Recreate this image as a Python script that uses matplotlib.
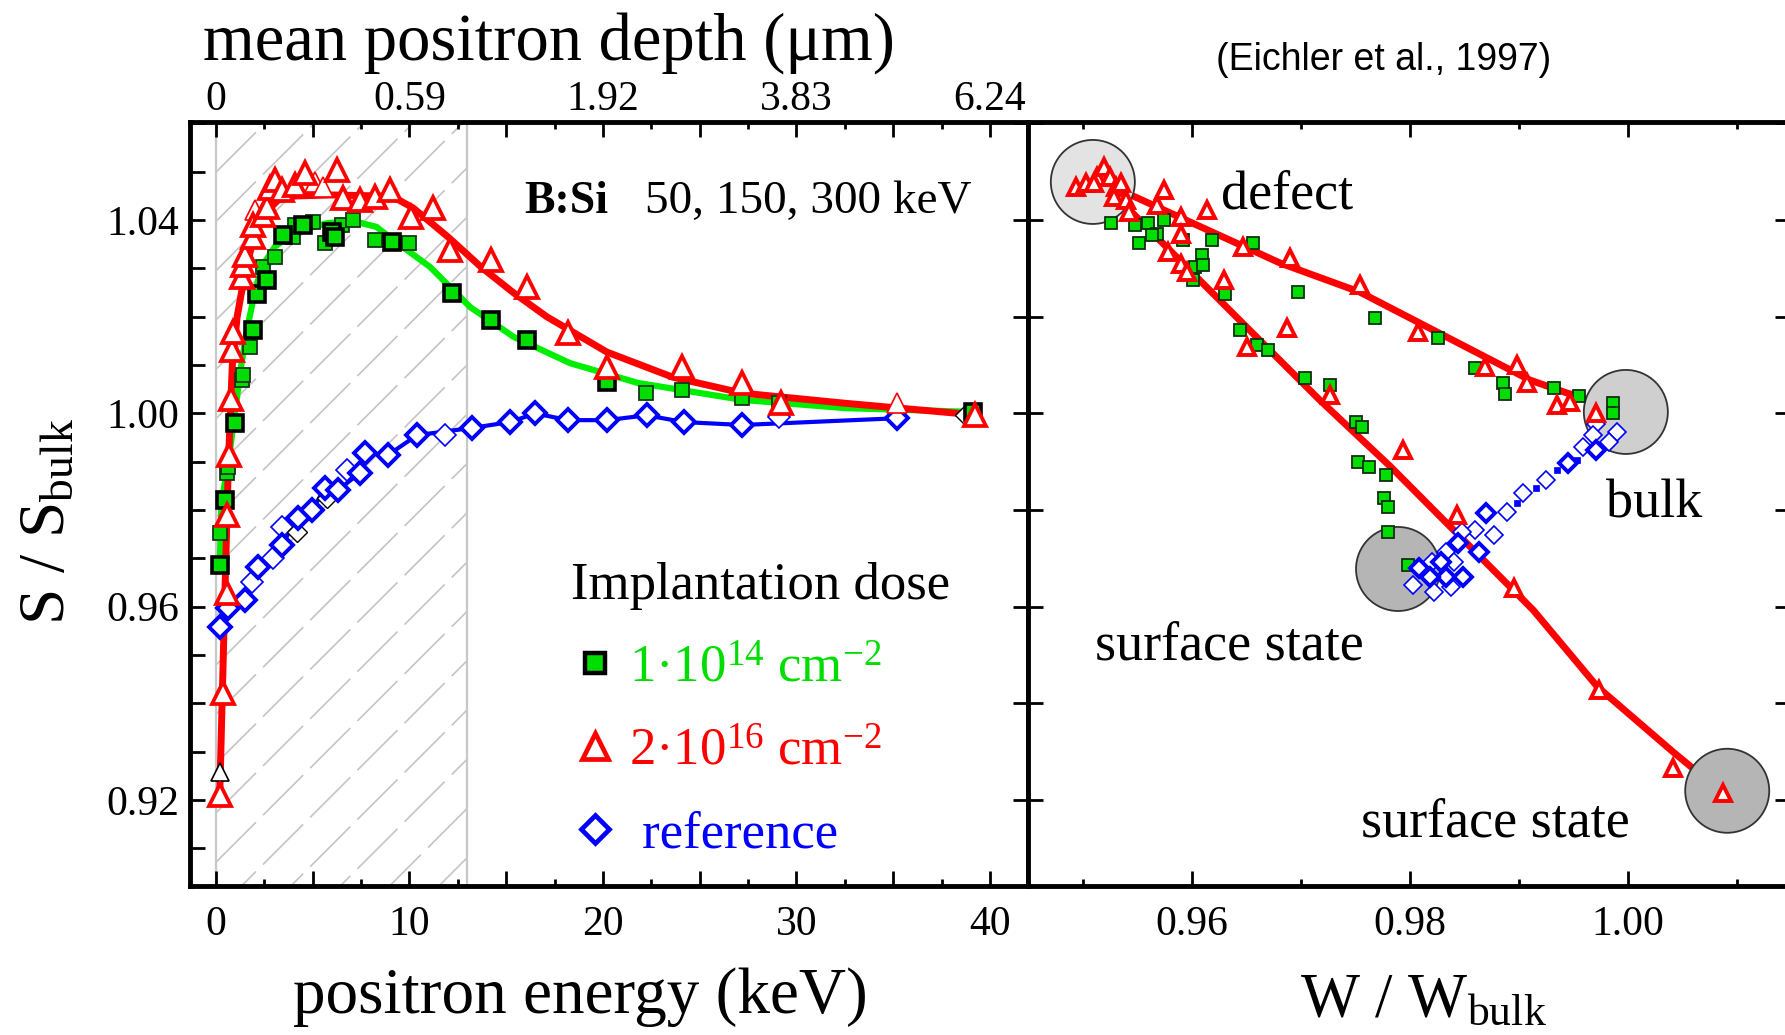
import matplotlib
matplotlib.use("Agg")
import matplotlib.pyplot as plt
from matplotlib.lines import Line2D
from matplotlib.patches import Rectangle
from matplotlib.ticker import MultipleLocator, FuncFormatter

plt.rcParams['font.family'] = ['Liberation Serif', 'DejaVu Serif']
plt.rcParams['mathtext.fontset'] = 'custom'
plt.rcParams['mathtext.rm'] = 'Liberation Serif'
plt.rcParams['mathtext.it'] = 'Liberation Serif:italic'
plt.rcParams['mathtext.bf'] = 'Liberation Serif:bold'

GREEN = '#00dd00'
RED = '#ff0000'
BLUE = '#0000ff'

# ---- S(E) depth profiles, 1e14 cm^-2 (green squares) ----
G_THICK_E = [0.2, 0.47, 0.98, 1.93, 2.1, 2.62, 3.48, 4.52, 5.98, 6.16, 9.09, 12.2, 14.2, 16.1, 20.2, 39.1]
G_THICK_S = [0.9686, 0.9820, 0.9980, 1.0172, 1.0248, 1.0276, 1.0369, 1.0390, 1.0376, 1.0365, 1.0355,
             1.0249, 1.0193, 1.0152, 1.0065, 1.0003]
G_THIN_E = [0.2, 0.55, 0.64, 1.33, 1.41, 1.76, 2.45, 3.05, 4.0, 4.09, 5.03, 5.64, 6.5, 7.1, 8.23, 10.0,
            22.2, 24.1, 27.2, 29.1]
G_THIN_S = [0.9752, 0.9876, 0.9890, 1.0069, 1.0080, 1.0138, 1.0303, 1.0324, 1.0365, 1.0390, 1.0397,
            1.0352, 1.0390, 1.0400, 1.0359, 1.0352, 1.0042, 1.0048, 1.0032, 1.0021]
G_FIT_E = [0.2, 0.29, 0.64, 0.98, 1.33, 1.6, 1.93, 2.36, 3.05, 4.09, 5.8, 7.2, 8.3, 9.16, 11.07, 13.14,
           15.4, 18.3, 21.8, 27.2, 32.5, 39.1]
G_FIT_S = [0.9682, 0.9815, 0.9897, 1.0000, 1.0104, 1.0172, 1.0235, 1.0303, 1.0345, 1.0376, 1.0394, 1.0397,
           1.0386, 1.0359, 1.0303, 1.0220, 1.0158, 1.0104, 1.0063, 1.0028, 1.0011, 1.0003]

# ---- 2e16 cm^-2 (red triangles) ----
R_THICK_E = [0.2, 0.37, 0.57, 0.57, 0.66, 0.76, 0.81, 0.9, 1.33, 1.41, 1.5, 1.93, 1.93, 2.45, 2.62, 2.79,
             3.05, 3.4, 4.09, 4.6, 6.24, 6.59, 7.45, 8.23, 9.0, 10.1, 11.2, 12.1, 14.2, 16.1, 18.2, 20.2,
             24.1, 27.2, 29.2, 39.2]
R_THICK_S = [0.9211, 0.9421, 0.9628, 0.9790, 0.9914, 1.0030, 1.0131, 1.0169, 1.0283, 1.0307, 1.0328,
             1.0365, 1.0390, 1.0410, 1.0428, 1.0466, 1.0483, 1.0462, 1.0472, 1.0497, 1.0503, 1.0445,
             1.0441, 1.0448, 1.0462, 1.0406, 1.0425, 1.0338, 1.0317, 1.0261, 1.0166, 1.0096, 1.0096,
             1.0063, 1.0021, 0.9997]
R_THIN_E = [2.02, 5.12, 5.55, 35.2]
R_THIN_S = [1.0421, 1.0479, 1.0469, 1.0021]
R_FIT_E = [0.2, 0.45, 0.65, 0.85, 1.1, 1.5, 1.93, 2.53, 3.2, 4.1, 6.0, 8.5, 9.3, 10.2, 12.0, 13.7, 15.4,
           17.1, 20.2, 23.6, 27.2, 32.5, 39.2]
R_FIT_S = [0.921, 0.960, 0.990, 1.010, 1.020, 1.029, 1.0359, 1.0414, 1.0441, 1.0450, 1.0452, 1.0450,
           1.0445, 1.0425, 1.0365, 1.0303, 1.0249, 1.0200, 1.0127, 1.0075, 1.0042, 1.0021, 0.9997]
BLACK_TRI_E = [0.2]
BLACK_TRI_S = [0.9258]

# ---- reference sample (blue diamonds) ----
B_THICK_E = [0.2, 0.62, 1.5, 2.17, 3.4, 4.24, 4.97, 5.64, 6.3, 7.45, 7.7, 8.9, 10.4, 13.24, 15.2, 16.5,
             18.2, 20.2, 22.25, 24.2, 27.2, 35.2]
B_THICK_S = [0.9558, 0.9597, 0.9614, 0.9682, 0.9728, 0.9783, 0.9800, 0.9845, 0.9841, 0.9877, 0.9918,
             0.9914, 0.9955, 0.9970, 0.9982, 1.0000, 0.9986, 0.9986, 0.9996, 0.9982, 0.9976, 0.9990]
B_THIN_E = [1.86, 2.95, 3.4, 6.78, 11.85, 29.1]
B_THIN_S = [0.9651, 0.9701, 0.9765, 0.9883, 0.9955, 0.9992]
BLACK_DIA_E = [4.2, 5.75, 38.7]
BLACK_DIA_S = [0.9754, 0.9825, 0.9996]

# top axis: mean positron depth at given energies
DEPTH_E = [0, 10, 20, 30, 40]
DEPTH_LABELS = ['0', '0.59', '1.92', '3.83', '6.24']
HATCH_E_MAX = 13.0

# ---- S-W plot ----
SW_G_W = [0.9526, 0.9548, 0.9551, 0.9560, 0.9568, 0.9563, 0.9574, 0.9592, 0.9618, 0.9609, 0.9603, 0.9610,
          0.9601, 0.9630, 0.9656, 0.9697, 0.9644, 0.9660, 0.9670, 0.9768, 0.9826, 0.9704, 0.9727, 0.9750,
          0.9756, 0.9860, 0.9885, 0.9887, 0.9932, 0.9955, 0.9752, 0.9762, 0.9778, 0.9776, 0.9780, 0.9780,
          0.9798, 0.9986, 0.9986]
SW_G_S = [1.0393, 1.0390, 1.0352, 1.0393, 1.0372, 1.0369, 1.0400, 1.0359, 1.0359, 1.0328, 1.0303, 1.0307,
          1.0276, 1.0248, 1.0352, 1.0251, 1.0172, 1.0141, 1.0131, 1.0197, 1.0156, 1.0073, 1.0059, 0.9982,
          0.9972, 1.0094, 1.0062, 1.0041, 1.0052, 1.0035, 0.9899, 0.9889, 0.9872, 0.9825, 0.9806, 0.9754,
          0.9686, 1.0021, 1.0000]
SW_R_W = [0.9494, 0.9503, 0.9513, 0.9519, 0.9525, 0.9510, 0.9530, 0.9535, 0.9528, 0.9539, 0.9542, 0.9574,
          0.9568, 0.9590, 0.9614, 0.9590, 0.9578, 0.9590, 0.9595, 0.9647, 0.9629, 0.9690, 0.9687, 0.9650,
          0.9754, 0.9727, 0.9794, 0.9807, 0.9869, 0.9898, 0.9907, 0.9935, 0.9947, 0.9971, 0.9843, 0.9895,
          0.9973, 1.0041, 1.0087]
SW_R_S = [1.0469, 1.0476, 1.0490, 1.0510, 1.0490, 1.0476, 1.0469, 1.0476, 1.0448, 1.0441, 1.0417, 1.0462,
          1.0431, 1.0407, 1.0421, 1.0372, 1.0334, 1.0310, 1.0293, 1.0345, 1.0276, 1.0321, 1.0177, 1.0137,
          1.0266, 1.0038, 0.9924, 1.0168, 1.0096, 1.0100, 1.0062, 1.0017, 1.0024, 1.0000, 0.9790, 0.9639,
          0.9427, 0.9266, 0.9214]
SW_B_THICK_W = [0.9971, 0.9945, 0.9870, 0.9863, 0.9844, 0.9828, 0.9808, 0.9833, 0.9849, 0.9818]
SW_B_THICK_S = [0.9924, 0.9897, 0.9793, 0.9714, 0.9731, 0.9693, 0.9679, 0.9662, 0.9662, 0.9662]
SW_B_THIN_W = [0.9971, 0.9990, 0.9983, 0.9968, 0.9959, 0.9925, 0.9904, 0.9889, 0.9877, 0.9860, 0.9848,
               0.9833, 0.9840, 0.9820, 0.9803, 0.9822, 0.9838]
SW_B_THIN_S = [0.9979, 0.9962, 0.9941, 0.9955, 0.9931, 0.9862, 0.9835, 0.9796, 0.9748, 0.9759, 0.9755,
               0.9714, 0.9693, 0.9693, 0.9645, 0.9631, 0.9641]
SW_B_DOT_W = [0.9898, 0.9916, 0.9935, 0.9953]
SW_B_DOT_S = [0.9814, 0.9845, 0.9883, 0.9903]
# fitted trajectory: surface -> defect -> bulk
SW_FIT_W = [1.0087, 1.0041, 0.9972, 0.9913, 0.9782, 0.9717, 0.9641, 0.9540, 0.9511, 0.9540, 0.9681,
            0.9754, 0.9910, 0.9962, 0.9998]
SW_FIT_S = [0.9214, 0.9300, 0.9434, 0.9593, 0.9890, 1.0028, 1.0199, 1.0427, 1.0483, 1.0456, 1.0311,
            1.0251, 1.0069, 1.0028, 1.0003]
# characteristic states (grey discs)
STATE_W = [0.9509, 0.9998, 0.9789, 1.0091]
STATE_S = [1.0479, 1.0003, 0.9678, 0.9219]
STATE_COLORS = ['#e3e3e3', '#cfcfcf', '#b5b5b5', '#b5b5b5']


def style_spines(ax):
    for sp in ax.spines.values():
        sp.set_linewidth(3.5)


def draw_hatch(ax):
    # shaded depth region 0 .. HATCH_E_MAX keV
    rect = Rectangle((0, 0), HATCH_E_MAX, 1, transform=ax.get_xaxis_transform(),
                     facecolor='none', edgecolor='none')
    ax.add_patch(rect)
    k = 0.0040
    s0 = 1.0499 + 0.0102 * 3
    while s0 > 0.90 - k * HATCH_E_MAX:
        ax.plot([0, HATCH_E_MAX], [s0, s0 + k * HATCH_E_MAX], color='#c4c4c4', lw=1.2,
                ls=(0, (34, 6)), clip_path=rect, zorder=0.5)
        s0 -= 0.0102
    ax.axvline(0, color='#c8c8c8', lw=1.6, zorder=0.6)
    ax.axvline(HATCH_E_MAX, color='#c8c8c8', lw=1.6, zorder=0.6)


def plot_profiles(ax):
    draw_hatch(ax)
    ax.plot(G_FIT_E, G_FIT_S, color='#00ee00', lw=4.5, zorder=2, solid_capstyle='round')
    ax.plot(B_THICK_E, B_THICK_S, color=BLUE, lw=3, zorder=2)
    ax.plot(R_FIT_E, R_FIT_S, color=RED, lw=5, zorder=2.2, solid_capstyle='round')

    ax.plot(G_THIN_E, G_THIN_S, 's', ms=10.5, mfc=GREEN, mec='#173517', mew=1.3, zorder=3)
    ax.plot(G_THICK_E, G_THICK_S, 's', ms=11, mfc=GREEN, mec='black', mew=2.6, zorder=3.1)
    ax.plot(B_THIN_E, B_THIN_S, 'D', ms=11, mfc='white', mec=BLUE, mew=1.2, zorder=3)
    ax.plot(BLACK_DIA_E, BLACK_DIA_S, 'D', ms=10, mfc='white', mec='black', mew=1.0, zorder=3)
    ax.plot(B_THICK_E, B_THICK_S, 'D', ms=11, mfc='white', mec=BLUE, mew=2.8, zorder=3.2)
    ax.plot(R_THIN_E, R_THIN_S, '^', ms=14.5, mfc='white', mec=RED, mew=1.2, zorder=4)
    ax.plot(BLACK_TRI_E, BLACK_TRI_S, '^', ms=13, mfc='white', mec='black', mew=1.2, zorder=4)
    ax.plot(R_THICK_E, R_THICK_S, '^', ms=15.5, mfc='white', mec=RED, mew=2.7, zorder=4.1)

    ax.set_xlim(-1.34, 41.96)
    ax.set_ylim(0.9022, 1.0603)
    ax.xaxis.set_major_locator(MultipleLocator(5))
    ax.xaxis.set_minor_locator(MultipleLocator(2.5))
    ax.xaxis.set_major_formatter(FuncFormatter(lambda v, p: f'{v:.0f}' if abs(v % 10) < 1e-6 else ''))
    ax.yaxis.set_major_locator(MultipleLocator(0.02))
    ax.yaxis.set_minor_locator(MultipleLocator(0.01))
    ax.yaxis.set_major_formatter(FuncFormatter(
        lambda v, p: f'{v:.2f}' if abs(v / 0.04 - round(v / 0.04)) < 1e-6 else ''))
    ax.tick_params(axis='x', which='major', direction='in', length=11, width=2,
                   top=True, bottom=True, labelsize=30, pad=14)
    ax.tick_params(axis='x', which='minor', direction='in', length=5, width=2, top=True, bottom=True)
    ax.tick_params(axis='y', which='major', direction='in', length=11, width=2,
                   left=True, right=True, labelsize=30, pad=8)
    ax.tick_params(axis='y', which='minor', direction='in', length=11, width=2, left=True, right=False)
    style_spines(ax)

    top = ax.secondary_xaxis('top')
    top.set_xticks(DEPTH_E, DEPTH_LABELS)
    top.tick_params(length=0, labelsize=30, pad=2)
    top.spines['top'].set_visible(False)

    ax.text(0.3986, 0.881, 'B:Si', transform=ax.transAxes, fontsize=33, weight='bold', va='baseline')
    ax.text(0.543, 0.881, '50, 150, 300 keV', transform=ax.transAxes, fontsize=34, va='baseline')

    handles = [
        Line2D([], [], ls='none', marker='s', ms=14, mfc=GREEN, mec='black', mew=3.2),
        Line2D([], [], ls='none', marker='^', ms=19, mfc='white', mec=RED, mew=3.4),
        Line2D([], [], ls='none', marker='D', ms=14, mfc='white', mec=BLUE, mew=3.4),
    ]
    labels = ['1·10$^{14}$ cm$^{-2}$', '2·10$^{16}$ cm$^{-2}$', ' reference']
    leg = ax.legend(handles, labels, title='Implantation dose', loc='upper left',
                    bbox_to_anchor=(0.4547, 0.424), frameon=False, fontsize=38,
                    title_fontsize=38, alignment='left', borderpad=0, borderaxespad=0,
                    handlelength=0.9, handletextpad=0.2, labelspacing=0.66)
    for t, c in zip(leg.get_texts(), [GREEN, RED, BLUE]):
        t.set_color(c)


def plot_sw(ax):
    ax.plot(SW_FIT_W, SW_FIT_S, color=RED, lw=5, zorder=2, solid_capstyle='round')
    ax.scatter(STATE_W, STATE_S, s=3660, c=STATE_COLORS, edgecolors='#333333', linewidths=1.3, zorder=2.5)
    ax.plot(SW_G_W, SW_G_S, 's', ms=8.5, mfc=GREEN, mec='#0f2f0f', mew=1.3, zorder=3)
    ax.plot(SW_B_DOT_W, SW_B_DOT_S, 's', ms=4, mfc=BLUE, mec=BLUE, mew=0.5, zorder=3.3)
    ax.plot(SW_B_THIN_W, SW_B_THIN_S, 'D', ms=9.5, mfc='white', mec=BLUE, mew=1.2, zorder=3.4)
    ax.plot(SW_B_THICK_W, SW_B_THICK_S, 'D', ms=9.5, mfc='white', mec=BLUE, mew=2.8, zorder=3.5)
    ax.plot(SW_R_W, SW_R_S, '^', ms=12, mfc='white', mec=RED, mew=2.8, zorder=4)

    ax.set_xlim(0.94495, 1.01486)
    ax.set_ylim(0.9022, 1.0603)
    ax.xaxis.set_major_locator(MultipleLocator(0.02))
    ax.xaxis.set_minor_locator(MultipleLocator(0.01))
    ax.xaxis.set_major_formatter(FuncFormatter(lambda v, p: f'{v:.2f}'))
    ax.yaxis.set_major_locator(MultipleLocator(0.02))
    ax.tick_params(axis='x', which='major', direction='in', length=11, width=2,
                   top=True, bottom=True, labelsize=30, pad=14)
    ax.tick_params(axis='x', which='minor', direction='in', length=5, width=2, top=True, bottom=True)
    ax.tick_params(axis='y', which='major', direction='in', length=11, width=2,
                   left=True, right=True, labelleft=False)
    style_spines(ax)

    ax.text(0.2533, 0.8874, 'defect', transform=ax.transAxes, fontsize=39, va='baseline')
    ax.text(0.7585, 0.4817, 'bulk', transform=ax.transAxes, fontsize=39, va='baseline')
    ax.text(0.0879, 0.2958, 'surface state', transform=ax.transAxes, fontsize=39, va='baseline')
    ax.text(0.437, 0.0641, 'surface state', transform=ax.transAxes, fontsize=39, va='baseline')


def main():
    fig = plt.figure(figsize=(17.85, 10.35), dpi=100)
    ax1 = fig.add_axes([0.1064, 0.1440, 0.4695, 0.7381])
    ax2 = fig.add_axes([0.5759, 0.1440, 0.4269, 0.7381])
    plot_profiles(ax1)
    plot_sw(ax2)

    fig.text(0.3076, 0.958, 'mean positron depth (\u03bcm)', fontsize=48, ha='center', va='center')
    fig.text(0.325, 0.0213, 'positron energy (keV)', fontsize=47, ha='center', va='baseline')
    fig.text(0.7972, 0.0174, r'W / W$_{\mathrm{bulk}}$', fontsize=45, ha='center', va='baseline')
    fig.text(0.027, 0.4966, r'S / S$_{\mathrm{bulk}}$', fontsize=47, rotation=90, ha='center', va='center')
    fig.text(0.7754, 0.942, '(Eichler et al., 1997)', fontsize=27, family='Liberation Sans',
             ha='center', va='center')

    fig.savefig('out.png', dpi=100)


if __name__ == "__main__":
    main()
